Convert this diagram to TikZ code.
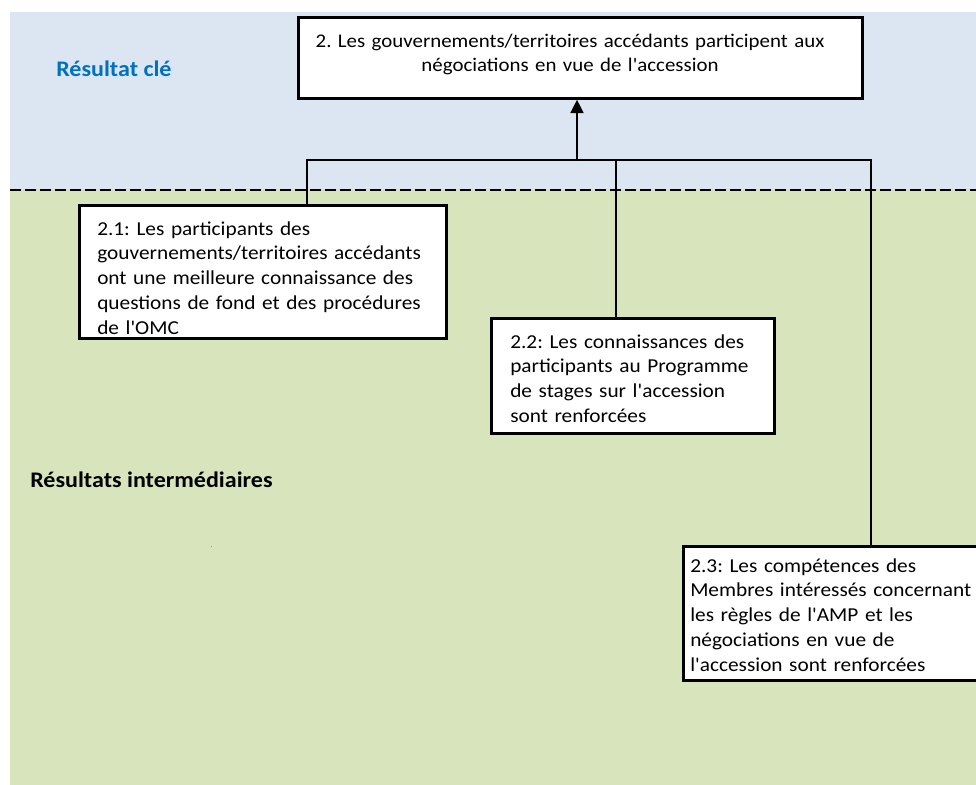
\documentclass[tikz,border=0pt]{standalone}
\usepackage{fontspec}
\setmainfont{Carlito}[FakeStretch=1.08, Ligatures=TeXOff]
\usetikzlibrary{arrows.meta}
\definecolor{keyband}{HTML}{DCE6F2}
\definecolor{midband}{HTML}{D8E4BC}
\definecolor{keyblue}{HTML}{0070C0}

\begin{document}
\frenchspacing
\begin{tikzpicture}[x=0.75pt,y=-0.75pt,
  resultbox/.style={draw=black, line width=2pt, fill=white, inner sep=0pt, anchor=north west},
  boxtext/.style={anchor=base west, inner sep=0pt, align=left, text width=270pt,
    font=\fontsize{14.8}{18.6}\selectfont},
  keytext/.style={anchor=base, inner sep=0pt, align=center, text width=420pt,
    font=\fontsize{14.5}{18.6}\selectfont},
  link/.style={line width=2pt},
  tier/.style={anchor=base west, inner sep=0pt, font=\bfseries\fontsize{16.7}{20}\selectfont}]
\clip (0,0) rectangle (976,785);
\fill[white] (0,0) rectangle (976,785);
% bands: key result (top) and intermediate results (bottom)
\fill[keyband] (10,12) rectangle (976,189);
\fill[midband] (10,189) rectangle (976,785);
\draw[line width=1.9pt, dash pattern=on 8.25pt off 3pt] (10,190) -- (976,190);

\node[tier, text=keyblue] (lblkey) at (56,76) {Résultat clé};
\node[tier] (lblmid) at (30,487) {Résultats intermédiaires};

% junction points on the collecting bar
\coordinate (j1) at (307,160);
\coordinate (jm) at (577,160);
\coordinate (j2) at (616,160);
\coordinate (j3) at (871,160);

% result boxes
\node[resultbox, minimum width=423pt, minimum height=60.75pt] (top) at (297,16) {};
\node[resultbox, minimum width=275.25pt, minimum height=99.75pt] (b21) at (78,204) {};
\node[resultbox, minimum width=212.25pt, minimum height=86.25pt] (b22) at (490,317) {};
\node[resultbox, minimum width=238.5pt, minimum height=100.5pt] (b23) at (682,545) {};

% connectors
\draw[link] (j1 |- b21.north) -- (j1) -- (j3) -- (j3 |- b23.north);
\draw[link] (j2) -- (j2 |- b22.north);
\draw[link, -{Triangle[width=9.5pt,length=10pt]}] (jm) -- (jm |- top.south);

% box texts
\node[keytext] (ttop) at (570,47) {2. Les gouvernements/territoires accédants participent aux\\négociations en vue de l'accession};
\node[boxtext] (t21) at (97,235) {2.1: Les participants des\\gouvernements/territoires accédants\\ont une meilleure connaissance des\\questions de fond et des procédures\\de l'OMC};
\node[boxtext] (t22) at (510,348) {2.2: Les connaissances des\\participants au Programme\\de stages sur l'accession\\sont renforcées};
\node[boxtext] (t23) at (690,572) {2.3: Les compétences des\\Membres intéressés concernant\\les règles de l'AMP et les\\négociations en vue de\\l'accession sont renforcées};

\fill[keyblue!60] (210.5,545.5) rectangle ++(1.5,1.5);
\end{tikzpicture}
\end{document}
